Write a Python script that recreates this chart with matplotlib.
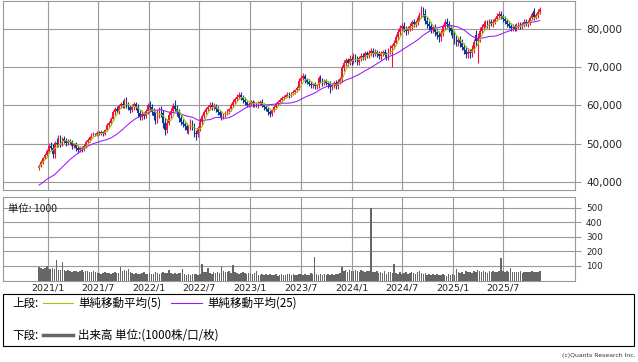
import numpy as np
import pandas as pd
import matplotlib
matplotlib.use("Agg")
import matplotlib.pyplot as plt
import matplotlib.dates as mdates
from matplotlib.patches import Rectangle
from matplotlib.lines import Line2D
from matplotlib.ticker import FuncFormatter

# ---------------- data (weekly) ----------------
start_week = "2020-11-30"

closes = [
    44200, 45300, 46300, 47000, 48200, 49500, 49000, 47200, 50300, 49800,
    51800, 50000, 51300, 50800, 50200, 50800, 50400, 49300, 49900, 49000,
    48300, 48900, 48500, 49500, 50500, 51000, 51800, 52300, 52600, 52400,
    52900, 52700, 53000, 52500, 53600, 54800, 55500, 56500, 58200, 59000,
    58600, 59800, 60500, 60000, 61200, 60200, 59500, 58900, 59600, 60300,
    59700, 58000, 57000, 57800, 57300, 58500, 60200, 59600, 58400, 57200,
    56300, 57800, 58800, 58000, 55500, 53600, 55500, 57500, 58600, 59800,
    59200, 58200, 56800, 55800, 55200, 54600, 53700, 54300, 55500, 54500,
    52800, 52500, 54000, 55800, 57300, 58300, 59000, 59600, 60200, 59500,
    59900, 59000, 58300, 57600, 57200, 57500, 58000, 58600, 59000, 60200,
    61000, 61800, 62300, 62800, 62200, 61500, 60800, 60200, 60500, 60900,
    60300, 60600, 60100, 60700, 61000, 60200, 59700, 59200, 58300, 57900,
    58800, 59700, 60400, 60900, 61500, 62000, 62300, 62700, 63000, 62600,
    63200, 63600, 64000, 64500, 66500, 67300, 67600, 66800, 66200, 65700,
    65300, 65500, 65000, 65300, 67200, 66700, 66000, 66300, 66000, 65600,
    64800, 65300, 65900, 65100, 66200, 67000, 69800, 71200, 71800, 71200,
    72200, 71600, 72800, 72000, 71400, 72300, 73000, 72600, 73600, 73200,
    73700, 74300, 73500, 74000, 73400, 72900, 73600, 74000, 73300, 72800,
    74200, 75000, 75500, 76300, 77800, 79200, 80300, 80800, 80000, 79400,
    80100, 80700, 81800, 81200, 81700, 82900, 83600, 85000, 84000, 82200,
    81200, 80700, 79800, 80400, 79100, 78400, 77800, 79000, 80500, 81800,
    81200, 80200, 79400, 78500, 77300, 76500, 77200, 76300, 75400, 74600,
    73500, 73900, 73600, 74800, 76500, 76900, 77600, 79500, 80500, 81300,
    81600, 81000, 81800, 81400, 81900, 82600, 83400, 84000, 83300, 82600,
    82000, 81400, 80800, 80300, 80600, 80100, 80800, 81200, 80700, 81300,
    81900, 81400, 81800, 82900, 83800, 83200, 83600, 84500, 85300,
]

opens = [
    43600, 44200, 45300, 46300, 47000, 48200, 49500, 49000, 47200, 50300,
    49800, 51800, 50000, 51300, 50800, 50200, 50800, 50400, 49300, 49900,
    49000, 48300, 48900, 48500, 49500, 50500, 51000, 51800, 52300, 52600,
    52400, 52900, 52700, 53000, 52500, 53600, 54800, 55500, 56500, 58200,
    59000, 58600, 59800, 60500, 60000, 61200, 60200, 59500, 58900, 59600,
    60300, 59700, 58000, 57000, 57800, 57300, 58500, 60200, 59600, 58400,
    57200, 56300, 57800, 58800, 58000, 55500, 53600, 55500, 57500, 58600,
    59800, 59200, 58200, 56800, 55800, 55200, 54600, 53700, 54300, 55500,
    54500, 52800, 52500, 54000, 55800, 57300, 58300, 59000, 59600, 60200,
    59500, 59900, 59000, 58300, 57600, 57200, 57500, 58000, 58600, 59000,
    60200, 61000, 61800, 62300, 62800, 62200, 61500, 60800, 60200, 60500,
    60900, 60300, 60600, 60100, 60700, 61000, 60200, 59700, 59200, 58300,
    57900, 58800, 59700, 60400, 60900, 61500, 62000, 62300, 62700, 63000,
    62600, 63200, 63600, 64000, 64500, 66500, 67300, 67600, 66800, 66200,
    65700, 65300, 65500, 65000, 65300, 67200, 66700, 66000, 66300, 66000,
    65600, 64800, 65300, 65900, 65100, 66200, 67000, 69800, 71200, 71800,
    71200, 72200, 71600, 72800, 72000, 71400, 72300, 73000, 72600, 73600,
    73200, 73700, 74300, 73500, 74000, 73400, 72900, 73600, 74000, 73300,
    72800, 74200, 75000, 75500, 76300, 77800, 79200, 80300, 80800, 80000,
    79400, 80100, 80700, 81800, 81200, 81700, 82900, 83600, 85000, 84000,
    82200, 81200, 80700, 79800, 80400, 79100, 78400, 77800, 79000, 80500,
    81800, 81200, 80200, 79400, 78500, 77300, 76500, 77200, 76300, 75400,
    74600, 73500, 73900, 73600, 74800, 78500, 76900, 77600, 79500, 80500,
    81300, 81600, 81000, 81800, 81400, 81900, 82600, 83400, 84000, 83300,
    82600, 82000, 81400, 80800, 80300, 80600, 80100, 80800, 81200, 80700,
    81300, 81900, 81400, 81800, 82900, 84700, 83200, 83600, 84500,
]

# wick lengths above the body / below the body (yen)
upper_wick = [
    400, 500, 300, 600, 400, 700, 900, 800, 500, 1200,
    500, 600, 500, 700, 600, 400, 500, 600, 400, 500,
    600, 400, 500, 300, 400, 500, 300, 400, 500, 300,
    400, 300, 500, 400, 300, 600, 500, 400, 700, 500,
    800, 600, 500, 900, 700, 1000, 800, 600, 900, 700,
    600, 800, 700, 900, 600, 700, 500, 900, 800, 1000,
    1200, 900, 700, 1100, 900, 1300, 1000, 800, 700, 900,
    1200, 800, 900, 1100, 700, 800, 900, 600, 1000, 800,
    900, 700, 600, 800, 500, 600, 700, 500, 600, 800,
    700, 600, 800, 500, 700, 600, 500, 600, 400, 500,
    600, 500, 700, 600, 800, 500, 600, 500, 400, 600,
    500, 700, 400, 600, 500, 700, 500, 600, 400, 500,
    400, 500, 400, 600, 500, 400, 500, 400, 600, 500,
    400, 500, 400, 500, 600, 700, 800, 600, 500, 700,
    600, 500, 700, 400, 600, 800, 500, 700, 600, 500,
    700, 600, 500, 800, 600, 500, 700, 800, 600, 700,
    900, 700, 800, 600, 900, 700, 600, 800, 700, 600,
    700, 600, 800, 700, 600, 800, 700, 600, 700, 800,
    900, 800, 600, 700, 800, 900, 800, 700, 900, 800,
    700, 800, 600, 900, 700, 800, 900, 1000, 700, 1100,
    900, 800, 1000, 700, 900, 800, 1000, 700, 900, 800,
    1000, 900, 800, 900, 1100, 1000, 800, 900, 1200, 1000,
    900, 1100, 800, 1000, 900, 1200, 1300, 1000, 800, 900,
    700, 800, 900, 700, 800, 600, 700, 800, 600, 700,
    800, 600, 700, 800, 600, 700, 800, 600, 700, 500,
    600, 700, 500, 600, 700, 800, 600, 700, 500,
]
lower_wick = [
    500, 300, 600, 400, 500, 400, 700, 900, 1000, 600,
    700, 900, 500, 600, 800, 500, 600, 700, 500, 800,
    600, 500, 700, 400, 500, 400, 500, 300, 400, 500,
    300, 500, 400, 600, 300, 400, 500, 600, 500, 700,
    600, 800, 500, 700, 600, 900, 700, 800, 600, 700,
    900, 1000, 800, 700, 900, 600, 700, 800, 1000, 900,
    1200, 800, 1000, 900, 1400, 1100, 900, 700, 800, 600,
    900, 1000, 1100, 900, 800, 1000, 900, 1100, 700, 1000,
    1000, 900, 700, 600, 800, 700, 600, 500, 700, 800,
    600, 700, 800, 600, 900, 700, 500, 600, 700, 500,
    600, 700, 500, 600, 700, 800, 700, 600, 700, 500,
    600, 700, 500, 800, 600, 700, 800, 700, 900, 800,
    600, 500, 600, 400, 500, 600, 500, 400, 500, 700,
    500, 400, 500, 600, 500, 700, 600, 800, 700, 600,
    700, 600, 800, 700, 600, 700, 800, 600, 700, 900,
    800, 700, 600, 900, 700, 600, 800, 700, 900, 800,
    700, 900, 800, 700, 900, 800, 700, 600, 800, 700,
    800, 700, 900, 600, 800, 700, 900, 700, 600, 900,
    800, 700, 900, 800, 600, 700, 800, 900, 700, 900,
    800, 700, 900, 800, 700, 600, 800, 700, 900, 1000,
    900, 1000, 800, 900, 1000, 900, 1100, 900, 800, 700,
    900, 1000, 1100, 900, 1200, 1000, 900, 1100, 1000, 1200,
    1100, 1000, 1200, 900, 1000, 1300, 1000, 900, 800, 700,
    800, 700, 900, 600, 800, 700, 600, 800, 700, 900,
    700, 800, 600, 700, 900, 700, 600, 800, 700, 600,
    700, 600, 800, 700, 600, 900, 700, 600, 500,
]

volumes = [
    93, 85, 80, 87, 100, 82, 80, 84, 78, 139,
    75, 72, 128, 70, 68, 72, 65, 60, 68, 62,
    58, 64, 70, 60, 66, 62, 58, 60, 64, 55,
    50, 52, 48, 54, 57, 50, 53, 47, 52, 55,
    49, 54, 93, 68, 70, 64, 82, 55, 50, 45,
    52, 47, 43, 50, 56, 48, 44, 52, 47, 42,
    55, 50, 46, 53, 58, 49, 52, 75, 50, 48,
    53, 46, 52, 49, 77, 44, 40, 45, 38, 42,
    47, 43, 39, 46, 112, 55, 60, 86, 52, 48,
    55, 50, 57, 53, 98, 62, 55, 58, 65, 52,
    109, 55, 50, 47, 52, 56, 49, 45, 51, 54,
    48, 52, 63, 40, 36, 44, 38, 42, 35, 46,
    40, 37, 43, 33, 39, 45, 41, 36, 42, 47,
    38, 44, 40, 35, 43, 48, 39, 45, 41, 37,
    50, 46, 162, 44, 40, 46, 38, 42, 36, 45,
    41, 47, 39, 43, 48, 52, 93, 65, 70, 60,
    72, 66, 62, 75, 68, 60, 70, 64, 58, 67,
    62, 500, 60, 55, 62, 50, 58, 52, 65, 48,
    56, 60, 53, 116, 50, 45, 55, 48, 52, 58,
    46, 54, 60, 50, 47, 55, 62, 49, 44, 52,
    40, 46, 38, 42, 35, 44, 40, 36, 45, 39,
    33, 42, 38, 46, 41, 77, 60, 52, 56, 48,
    62, 55, 58, 50, 65, 57, 70, 62, 55, 66,
    60, 52, 68, 58, 63, 55, 60, 66, 155, 62,
    55, 68, 58, 86, 56, 60, 55, 58, 62, 54,
    57, 61, 55, 59, 63, 56, 60, 58, 62,
]

# moving-average values visible before enough weeks exist in the window
ma5_head = [43800, 44500, 45200, 45800]
ma25_head = [39200, 39500, 39900, 40300, 40700, 41000, 41300, 41600, 41900, 42400,
             42900, 43400, 43900, 44400, 44900, 45400, 45900, 46300, 46700, 47100,
             47500, 47900, 48300, 48700]

# notable extreme wicks
hi_idx = [11, 45, 70, 197, 237]
hi_val = [52300, 62200, 61400, 85700, 84400]
lo_idx = [65, 81, 119, 150, 182, 226]
lo_val = [52300, 51000, 57000, 63300, 70000, 71000]

xtick_dates = ["2021-01-01", "2021-07-01", "2022-01-01", "2022-07-01", "2023-01-01",
               "2023-07-01", "2024-01-01", "2024-07-01", "2025-01-01", "2025-07-01"]
xtick_labels = ["2021/1", "2021/7", "2022/1", "2022/7", "2023/1",
                "2023/7", "2024/1", "2024/7", "2025/1", "2025/7"]
price_ticks = [40000, 50000, 60000, 70000, 80000]
vol_ticks = [100, 200, 300, 400, 500]

# ---------------- styling ----------------
plt.rcParams["font.family"] = ["DejaVu Sans", "Noto Sans CJK JP"]
JP = ["Noto Sans CJK JP", "DejaVu Sans"]
UP = "#f0143c"
DOWN = "#0a3a96"
MA5C = "#99cc00"
MA25C = "#9a1aff"
VOLC = "#666666"
GRID = "#999999"

W, H = 638, 362
fig = plt.figure(figsize=(W / 100, H / 100), dpi=100)
fx = lambda px: px / W
fy = lambda py: 1 - py / H

dates = pd.date_range(start_week, periods=len(closes), freq="7D")
x = mdates.date2num(dates)
o = np.array(opens, dtype=float)
c = np.array(closes, dtype=float)
top = np.maximum(o, c)
bot = np.minimum(o, c)
hi = top + np.array(upper_wick, dtype=float)
lo = bot - np.array(lower_wick, dtype=float)
hi[hi_idx] = np.maximum(hi[hi_idx], hi_val)
lo[lo_idx] = np.minimum(lo[lo_idx], lo_val)
cols = np.where(c >= o, UP, DOWN)

xmin = mdates.date2num(pd.Timestamp("2020-07-23"))
xmax = mdates.date2num(pd.Timestamp("2026-03-17"))
xt = mdates.date2num(pd.to_datetime(xtick_dates))

# price panel
axp = fig.add_axes([fx(3), fy(190), fx(575) - fx(3), fy(1) - fy(190)])
axp.set_xlim(xmin, xmax)
axp.set_ylim(37900, 87320)
axp.set_xticks(xt)
axp.set_yticks(price_ticks)
axp.grid(True, color=GRID, lw=0.8)
axp.set_axisbelow(True)
for s in axp.spines.values():
    s.set_color(GRID)
    s.set_linewidth(0.8)
axp.yaxis.tick_right()
axp.tick_params(axis="x", length=0, labelbottom=False)
axp.tick_params(axis="y", length=4, width=0.8, color=GRID, pad=4,
                labelsize=7.5, labelcolor="#222222")
axp.yaxis.set_major_formatter(FuncFormatter(lambda v, p: f"{int(v):,}"))

axp.vlines(x, lo, hi, colors=cols, lw=0.8, zorder=3)
axp.bar(x, np.maximum(top - bot, 150), bottom=bot, width=5.8,
        color=cols, linewidth=0, zorder=3)

cs = pd.Series(c)
ma5 = cs.rolling(5).mean().to_numpy()
ma5[:len(ma5_head)] = ma5_head
ma25 = cs.rolling(25).mean().to_numpy()
ma25[:len(ma25_head)] = ma25_head
axp.plot(x, ma25, color=MA25C, lw=0.75, zorder=4)
axp.plot(x, ma5, color=MA5C, lw=0.75, zorder=4)

# volume panel
axv = fig.add_axes([fx(3), fy(280.5), fx(575) - fx(3), fy(197) - fy(280.5)])
axv.set_xlim(xmin, xmax)
axv.set_ylim(0, 574)
axv.set_xticks(xt)
axv.set_xticklabels(xtick_labels)
axv.set_yticks(vol_ticks)
axv.grid(True, color=GRID, lw=0.8)
axv.set_axisbelow(True)
for s in axv.spines.values():
    s.set_color(GRID)
    s.set_linewidth(0.8)
axv.yaxis.tick_right()
axv.tick_params(axis="x", length=0, pad=2, labelsize=6.8, labelcolor="#222222")
axv.tick_params(axis="y", length=4, width=0.8, color=GRID, pad=4,
                labelsize=6.3, labelcolor="#222222")
axv.bar(x, volumes, width=5.5, color=VOLC, linewidth=0, zorder=3)
fig.text(fx(8), fy(209), "単位: 1000", fontsize=7.5, family=JP, va="center",
         ha="left", color="#222222", zorder=5)

# legend box
fig.add_artist(Rectangle((fx(3), fy(346)), fx(634) - fx(3), fy(294) - fy(346),
                         transform=fig.transFigure, fill=False, ec="black", lw=0.8))
LFS = 8.3
fig.text(fx(12), fy(303), "上段:", family=JP, fontsize=LFS, va="center", ha="left")
fig.add_artist(Line2D([fx(43), fx(73)], [fy(303), fy(303)], transform=fig.transFigure,
                      color=MA5C, lw=0.8))
fig.text(fx(78), fy(303), "単純移動平均(5)", family=JP, fontsize=LFS, va="center", ha="left")
fig.add_artist(Line2D([fx(171), fx(202)], [fy(303), fy(303)], transform=fig.transFigure,
                      color=MA25C, lw=0.8))
fig.text(fx(207), fy(303), "単純移動平均(25)", family=JP, fontsize=LFS, va="center", ha="left")
fig.text(fx(12), fy(335), "下段:", family=JP, fontsize=LFS, va="center", ha="left")
fig.add_artist(Line2D([fx(43), fx(73)], [fy(335), fy(335)], transform=fig.transFigure,
                      color=VOLC, lw=2.5))
fig.text(fx(78), fy(335), "出来高 単位:(1000株/口/枚)", family=JP, fontsize=LFS,
         va="center", ha="left")

fig.text(fx(636), fy(356), "(c)Quants Research Inc.", fontsize=4.4, color="#333333",
         va="center", ha="right")

fig.savefig("out.png", dpi=100)
